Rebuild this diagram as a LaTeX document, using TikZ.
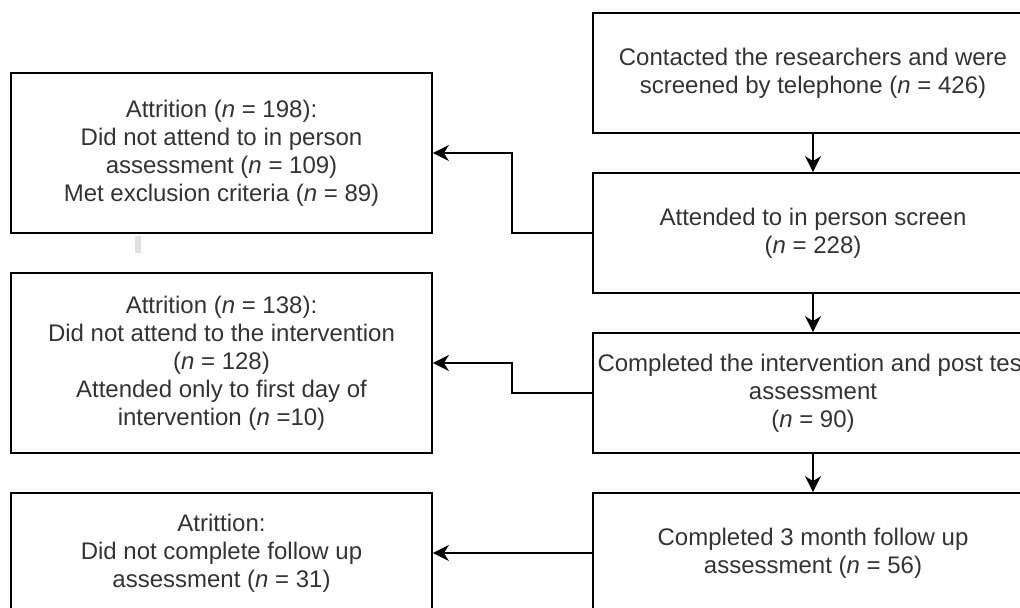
\documentclass[tikz,border=0pt]{standalone}
\usepackage{fontspec}
\setmainfont{Liberation Sans}
\usetikzlibrary{arrows.meta}

\begin{document}
\begin{tikzpicture}[x=0.5pt, y=-0.5pt,
  box/.style={draw, line width=0.9pt, inner sep=0pt, align=center, text=black!80, font=\fontsize{12}{14}\selectfont},
  rbox/.style={box, minimum width=220pt, minimum height=60pt},
  lbox/.style={box, minimum width=210.5pt},
  arr/.style={-{Stealth[length=8pt,width=8pt,inset=2.5pt]}, line width=0.9pt}]
 \useasboundingbox (0,0) rectangle (1020,607);
 \node[rbox] (r1) at (813,73) {Contacted the researchers and were\\screened by telephone (\textit{n} = 426)};
 \node[rbox] (r2) at (813,233) {Attended to in person screen\\(\textit{n} = 228)};
 \node[rbox] (r3) at (813,393) {Completed the intervention and post test\\assessment\\(\textit{n} = 90)};
 \node[rbox] (r4) at (813,553) {Completed 3 month follow up\\assessment (\textit{n} = 56)};
 \node[lbox, minimum height=80pt] (l1) at (221.5,153) {Attrition (\textit{n} = 198):\\Did not attend to in person\\assessment (\textit{n} = 109)\\Met exclusion criteria (\textit{n} = 89)};
 \node[lbox, minimum height=90pt] (l2) at (221.5,363) {Attrition (\textit{n} = 138):\\Did not attend to the intervention\\(\textit{n} = 128)\\Attended only to first day of\\intervention (\textit{n} =10)};
 \node[lbox, minimum height=60pt] (l3) at (221.5,553) {Atrittion:\\Did not complete follow up\\assessment (\textit{n} = 31)};
 \fill[black!12] (135,236) rectangle (141,253);
 \path[arr]
  (r1) edge (r2)
  (r2) edge (r3)
  (r3) edge (r4);
 \draw[arr] (r2.west) -- ++(-80,0) |- (l1.east);
 \draw[arr] (r3.west) -- ++(-80,0) |- (l2.east);
 \draw[arr] (r4.west) -- (l3.east);
\end{tikzpicture}
\end{document}
